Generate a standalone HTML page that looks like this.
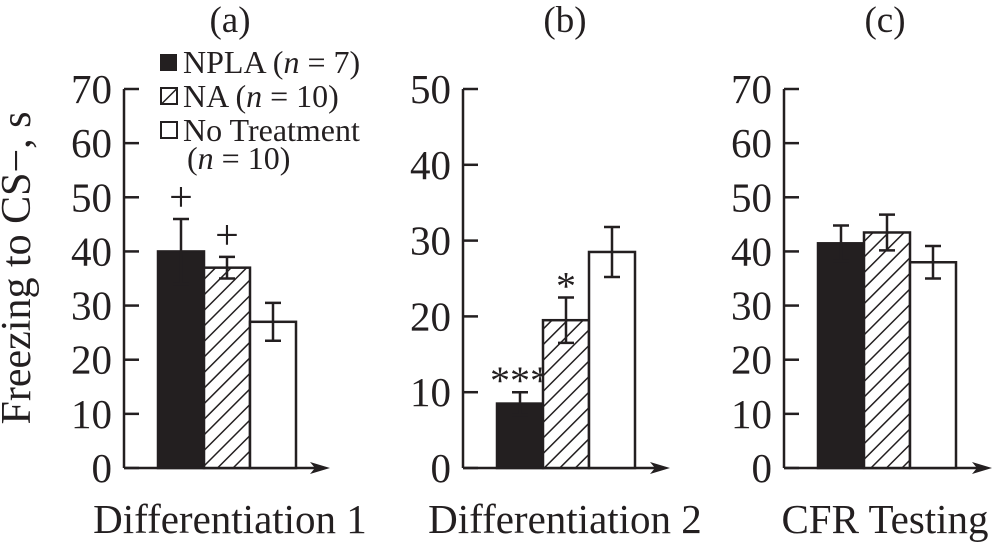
<!DOCTYPE html>
<html><head><meta charset="utf-8"><style>
body{margin:0;background:#fff}
svg{display:block}
text{font-family:"Liberation Serif","DejaVu Serif",serif;fill:#231f20}
</style></head><body>
<svg width="1002" height="544" viewBox="0 0 1002 544">
<defs><pattern id="hatch" patternUnits="userSpaceOnUse" width="11" height="11" patternTransform="rotate(45)">
<rect width="11" height="11" fill="#fff"/><line x1="0" y1="0" x2="0" y2="11" stroke="#231f20" stroke-width="3"/></pattern></defs>
<text x="30" y="268" font-size="42" text-anchor="middle" transform="rotate(-90 30 268)">Freezing to CS−, s</text>
<g>
<rect x="160" y="54" width="17" height="17" fill="#231f20"/>
<text x="183" y="73" font-size="32">NPLA (<tspan font-style="italic">n</tspan> = 7)</text>
<rect x="161" y="88" width="16" height="16" fill="url(#hatch)" stroke="#231f20" stroke-width="2"/>
<text x="183" y="107" font-size="32">NA (<tspan font-style="italic">n</tspan> = 10)</text>
<rect x="161" y="122" width="16" height="16" fill="#fff" stroke="#231f20" stroke-width="2"/>
<text x="183" y="141" font-size="32">No Treatment</text>
<text x="187" y="169" font-size="32">(<tspan font-style="italic">n</tspan> = 10)</text>
</g>
<g id="root"></g>
</svg>
<script>
const panelNames=["a","b","c"];
const xLabels=["Differentiation 1","Differentiation 2","CFR Testing"];
const yMax=[70,50,70];
const tickStep=[10,10,10];
const npla=[40,8.5,41.5];
const na=[37,19.5,43.5];
const none=[27,28.5,38];
const nplaErr=[6,1.5,3.3];
const naErr=[2,3,3.3];
const noneErr=[3.5,3.3,3];
const marks=[["+","+",""],["***","*",""],["","",""]];
const NS="http://www.w3.org/2000/svg";
const root=document.getElementById('root');
const axX=[124,463,784], arrowEnd=[330,670,992], titleX=[230,565,885];
const y0=468, yTop=89, bw=46;
function mk(t,a){const e=document.createElementNS(NS,t);for(const k in a)e.setAttribute(k,a[k]);root.appendChild(e);return e;}
for(let p=0;p<3;p++){
  const ys=v=>y0-(v/yMax[p])*(y0-yTop);
  const ax=axX[p];
  let e=mk('line',{x1:ax,y1:yTop,x2:ax,y2:y0,stroke:'#231f20','stroke-width':2.5});
  
  e=mk('line',{x1:ax,y1:y0,x2:arrowEnd[p]-12,y2:y0,stroke:'#231f20','stroke-width':2.5});
  
  e=mk('path',{d:`M${arrowEnd[p]} ${y0} L${arrowEnd[p]-20} ${y0-6} L${arrowEnd[p]-15} ${y0} L${arrowEnd[p]-20} ${y0+6}Z`,fill:'#231f20'});
  
  for(let v=0;v<=yMax[p];v+=tickStep[p]){
    const y=ys(v);
    e=mk('line',{x1:ax,y1:y,x2:ax+15,y2:y,stroke:'#231f20','stroke-width':2.5});
    
    e=mk('text',{x:ax-12,y:y+14,'font-size':41,'text-anchor':'end'});e.textContent=v;
    
  }
  e=mk('text',{x:titleX[p],y:32,'font-size':37,'text-anchor':'middle'});e.textContent='('+panelNames[p]+')';
  
  e=mk('text',{x:titleX[p],y:533,'font-size':41,'text-anchor':'middle'});e.textContent=xLabels[p];
  
  const vals=[npla[p],na[p],none[p]], errs=[nplaErr[p],naErr[p],noneErr[p]];
  const fills=['#231f20','url(#hatch)','#fff'], nm=['npla','na','no-treatment'];
  const bx0=ax+34;
  for(let i=0;i<3;i++){
    const x=bx0+i*bw, y=ys(vals[i]);
    e=mk('rect',{x:x,y:y,width:bw,height:y0-y,fill:fills[i],stroke:'#231f20','stroke-width':2.5});
    
    const cx=x+bw/2, yt=ys(vals[i]+errs[i]), yb=ys(vals[i]-errs[i]);
    e=mk('path',{d:`M${cx} ${yt} L${cx} ${yb} M${cx-8} ${yt} L${cx+8} ${yt} M${cx-8} ${yb} L${cx+8} ${yb}`,stroke:'#231f20','stroke-width':2.5,fill:'none'});
    
    if(marks[p][i]){
      const star=marks[p][i].includes('*');
      e=mk('text',{x:cx,y:star?yt+2:yt-8,'font-size':star?40:42,'text-anchor':'middle'});
      e.textContent=marks[p][i];
      
    }
  }
}
</script>
</body></html>
